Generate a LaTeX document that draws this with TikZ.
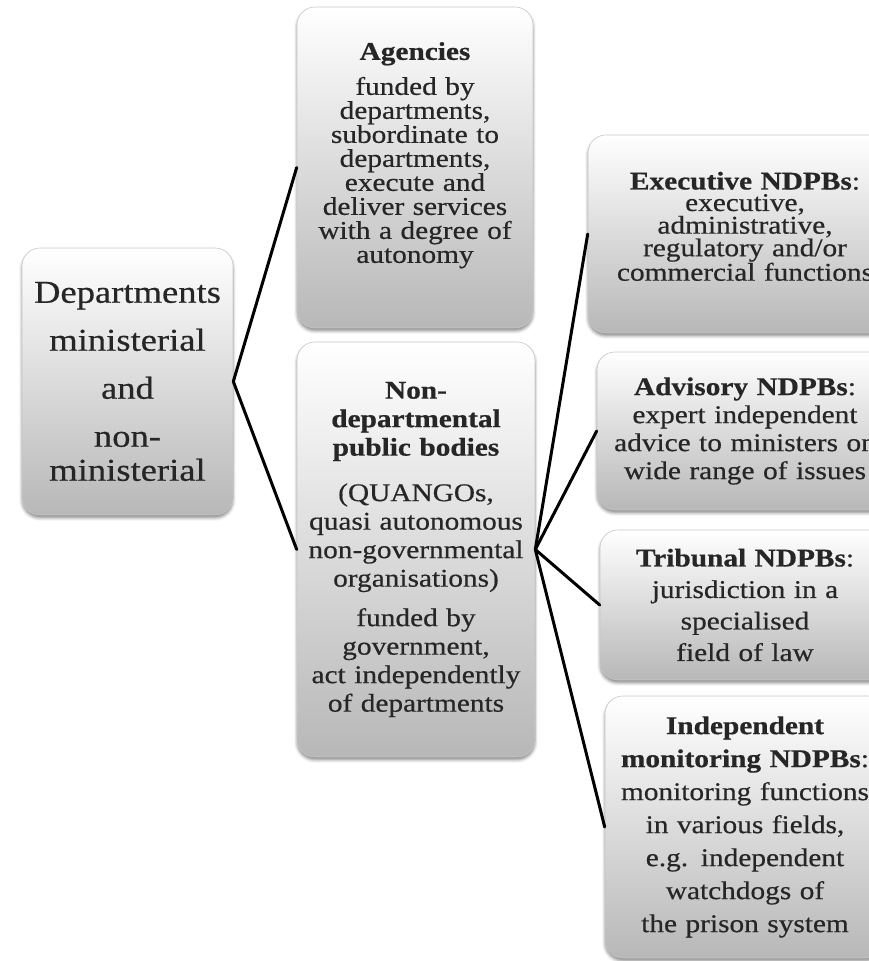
\documentclass[tikz,border=0pt]{standalone}
\usepackage{fontspec}
\setmainfont{Liberation Serif}[FakeStretch=1.15, UprightFeatures={FakeBold=0.5}, BoldFeatures={FakeBold=0.6}]
\usepackage{tikz}
\usetikzlibrary{shadows.blur}

\tikzset{
  orgbox/.style={draw=black!22, line width=0.6pt, rounded corners=18pt,
    top color=white, middle color=black!6, bottom color=black!28,
    blur shadow={shadow xshift=0pt, shadow yshift=-3pt, shadow blur radius=3pt, shadow opacity=45},
    align=center, inner sep=0pt, text=black!85},
  link/.style={line width=3pt, black, line cap=round}
}

\begin{document}
\begin{tikzpicture}[x=1pt,y=1pt]
\useasboundingbox (0,0) rectangle (869,961);

% Departments
\node[orgbox, minimum width=211, minimum height=267, text width=205,
  font=\fontsize{31.8}{34}\selectfont] (dept) at (127.5,579.5)
  {Departments\\[14pt] ministerial\\[14pt] and\\[14pt] non-\\ ministerial};

% second level
\node[orgbox, minimum width=236, minimum height=321, text width=230,
  font=\fontsize{25.5}{24}\selectfont] (agencies) at (415,793.5)
  {\textbf{Agencies}\\[11pt] funded by\\ departments,\\ subordinate to\\ departments,\\
   execute and\\ deliver services\\ with a degree of\\ autonomy\\[6pt]\mbox{}};
\node[orgbox, minimum width=238, minimum height=415, text width=232,
  font=\fontsize{25.5}{28.5}\selectfont] (ndpb) at (416,411.5)
  {\textbf{Non-}\\ \textbf{departmental}\\ \textbf{public bodies}\\[17pt] (QUANGOs,\\
   quasi autonomous\\ non-governmental\\ organisations)\\[11pt] funded by\\
   government,\\ act independently\\ of departments};
\draw[link] (dept.east) -- (agencies.west);
\draw[link] (dept.east) -- (ndpb.west);

% NDPB types
\node[orgbox, minimum width=314, minimum height=198, text width=300,
  font=\fontsize{25.5}{21.5}\selectfont] (exec) at (745,727)
  {\textbf{Executive NDPBs}:\\ executive,\\ administrative,\\ regulatory and/or\\
   commercial functions\\[-6pt]\mbox{}};
\node[orgbox, minimum width=296, minimum height=158, text width=290,
  font=\fontsize{25.5}{28}\selectfont] (advisory) at (745,530)
  {\textbf{Advisory NDPBs}:\\ expert independent\\ advice to ministers on\\ wide range of issues};
\node[orgbox, minimum width=290, minimum height=150, text width=284,
  font=\fontsize{25.5}{31.5}\selectfont] (tribunal) at (745,356)
  {\textbf{Tribunal NDPBs}:\\ jurisdiction in a\\ specialised\\ field of law};
\node[orgbox, minimum width=280, minimum height=262, text width=274,
  font=\fontsize{25.5}{33}\selectfont] (monitor) at (745,134)
  {\textbf{Independent}\\ \textbf{monitoring NDPBs}:\\ monitoring functions\\ in various fields,\\
   e.g. independent\\ watchdogs of\\ the prison system};
\foreach \b in {exec,advisory,tribunal,monitor}
  \draw[link] (ndpb.east) -- (\b.west);
\end{tikzpicture}
\end{document}
